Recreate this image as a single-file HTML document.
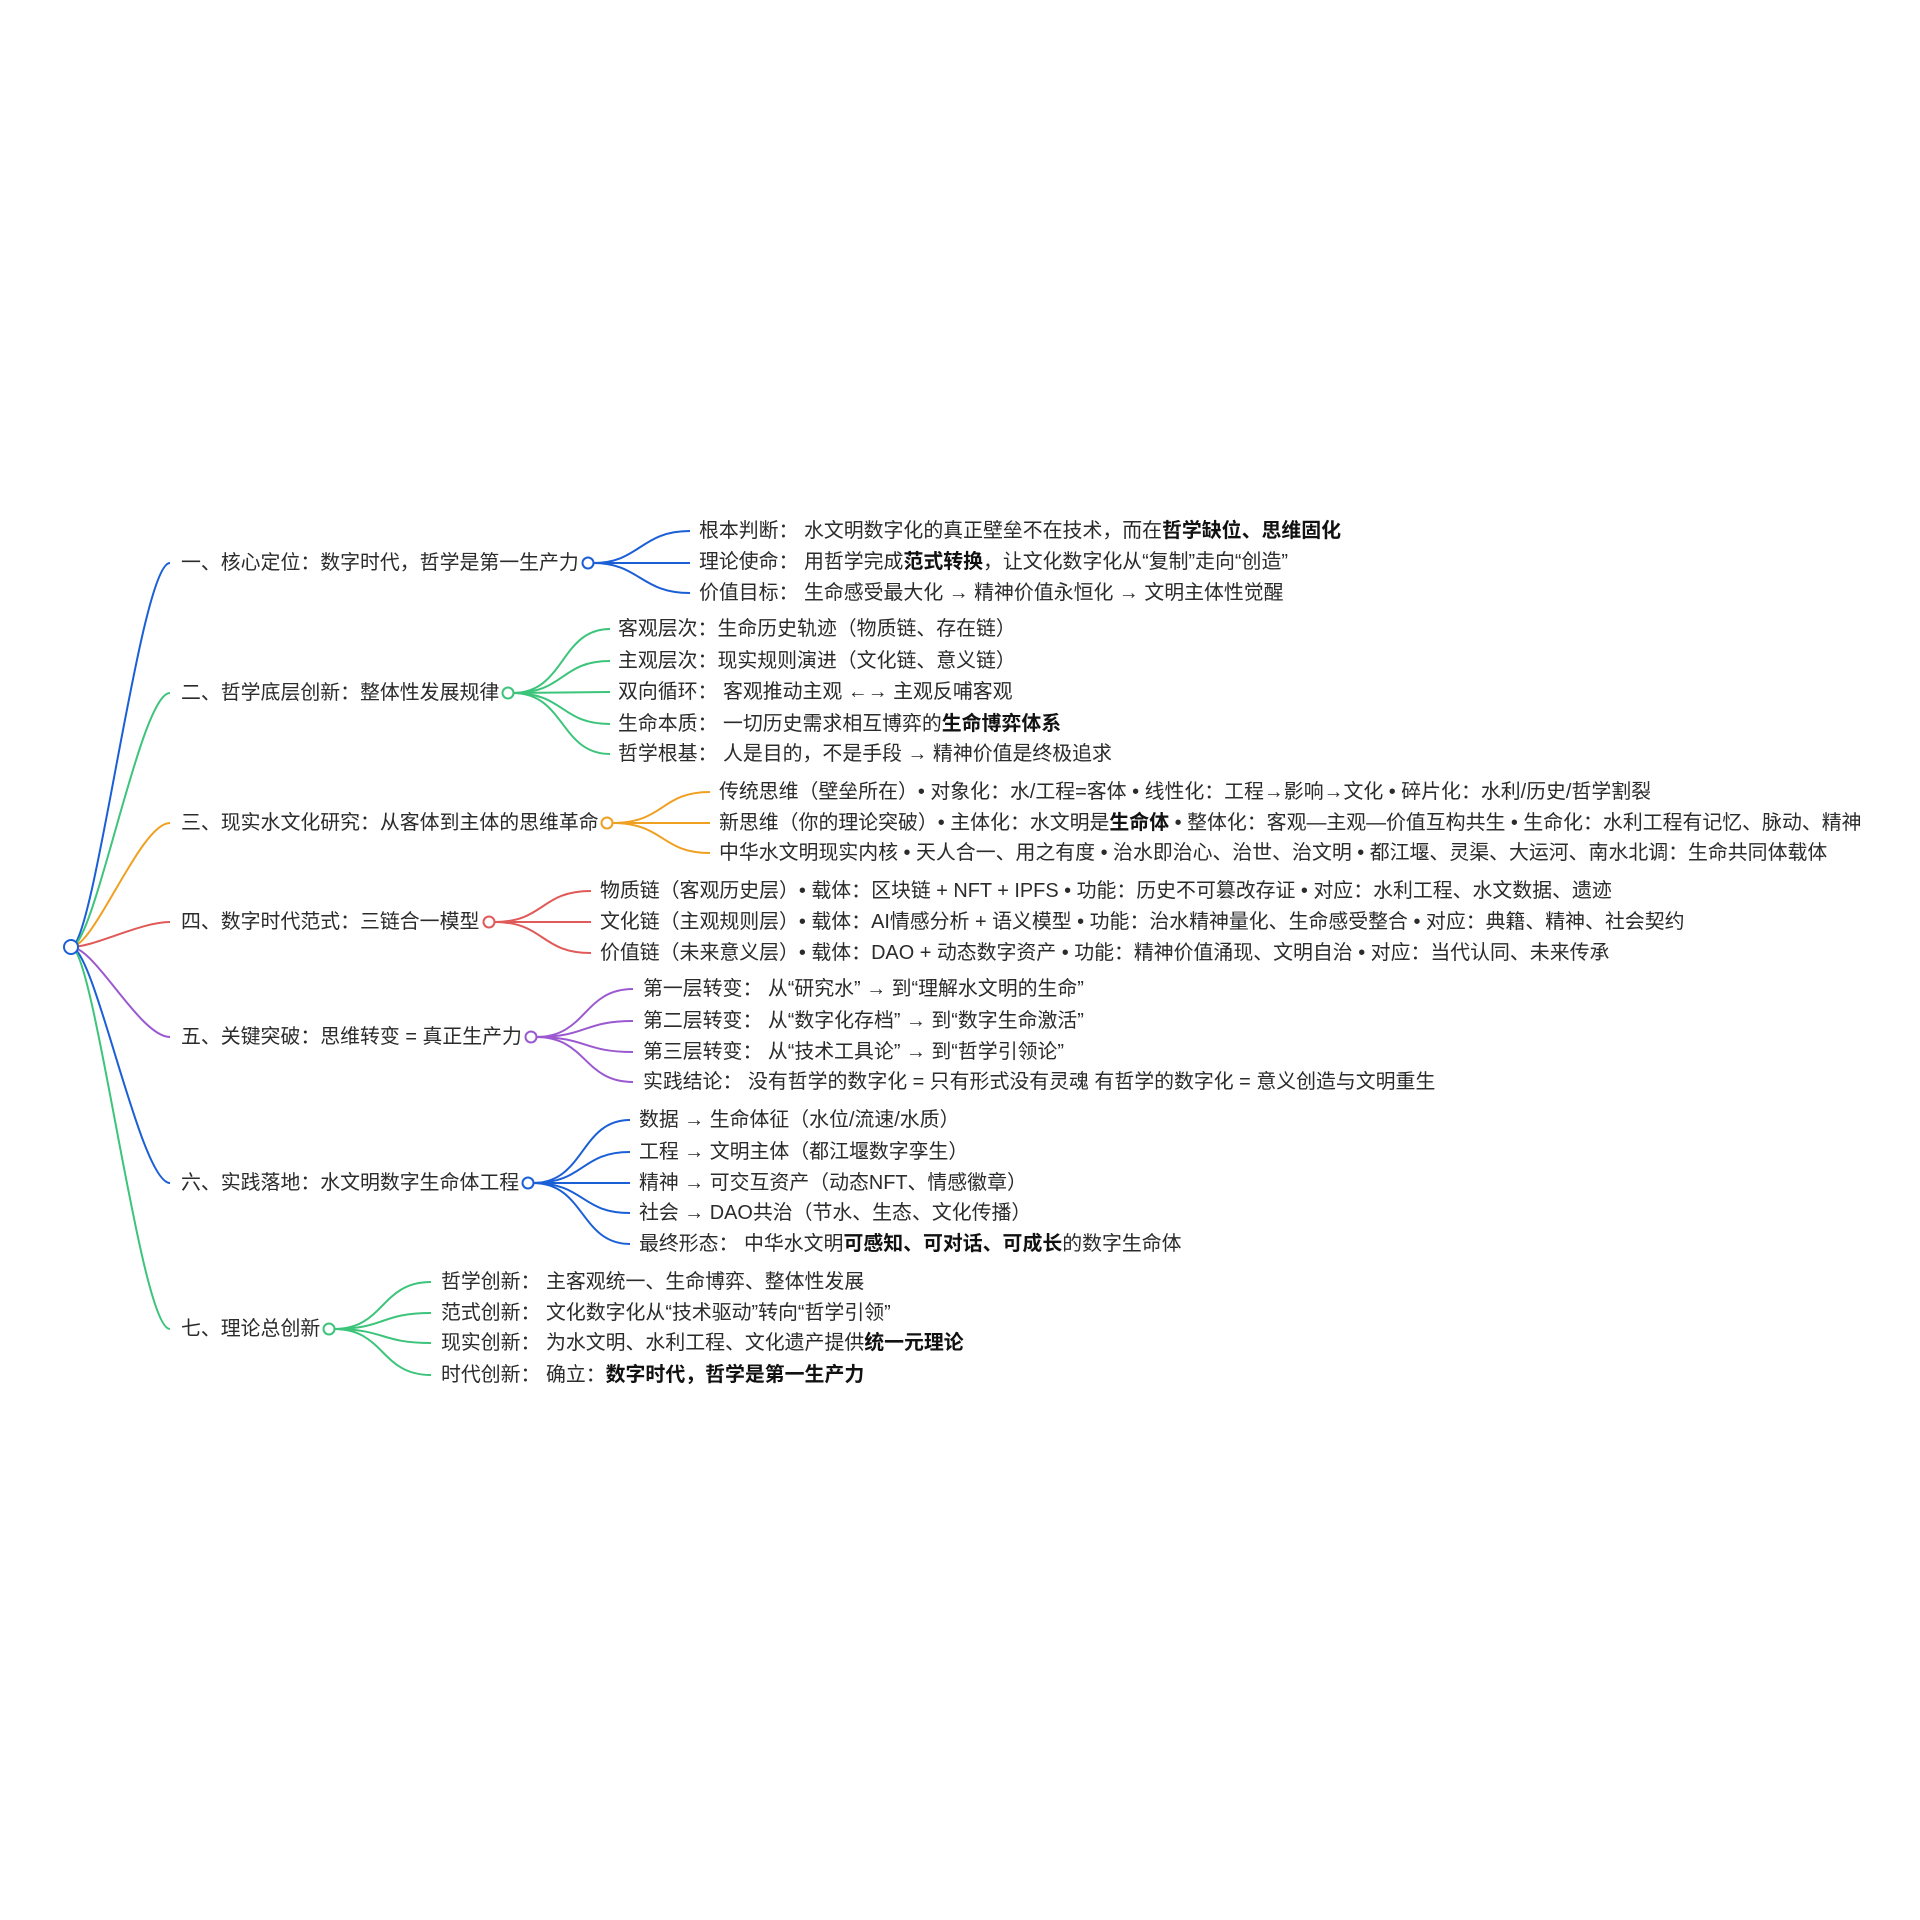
<!DOCTYPE html>
<html><head><meta charset="utf-8"><style>
html,body{margin:0;padding:0;background:#fff;}
#c{position:relative;width:1920px;height:1920px;overflow:hidden;}
.t{position:absolute;white-space:nowrap;font-family:"Liberation Sans","Noto Sans CJK SC",sans-serif;font-size:19.9px;color:#2b2b2b;line-height:28px;height:28px;}
b{font-weight:bold;color:#111;}
svg{position:absolute;left:0;top:0;}
</style></head><body><div id="c">
<svg width="1920" height="1920" fill="none" stroke-width="2">
<path d="M71,947 C95,947 140,563 170,563" stroke="#1a5fd6"/>
<path d="M71,947 C95,947 140,693 170,693" stroke="#3cc47a"/>
<path d="M71,947 C95,947 140,823 170,823" stroke="#f0a020"/>
<path d="M71,947 C95,947 140,922 170,922" stroke="#e05a5a"/>
<path d="M71,947 C95,947 140,1037 170,1037" stroke="#9b59d0"/>
<path d="M71,947 C95,947 140,1183 170,1183" stroke="#1a5fd6"/>
<path d="M71,947 C95,947 140,1329 170,1329" stroke="#3cc47a"/>
<circle cx="71" cy="947" r="7" fill="#fff" stroke="#1a5fd6"/>
<g stroke="#1a5fd6">
<path d="M593,563 C640,563 640,531 690,531"/><path d="M593,563 L690,563"/><path d="M593,563 C640,563 640,593 690,593"/>
<circle cx="588" cy="563" r="5.5" fill="#fff"/></g>
<g stroke="#3cc47a">
<path d="M513,693 C565,693 560,629 610,629"/><path d="M513,693 C565,693 560,661 610,661"/><path d="M513,693 L610,692"/><path d="M513,693 C565,693 560,724 610,724"/><path d="M513,693 C565,693 560,754 610,754"/>
<circle cx="508" cy="693" r="5.5" fill="#fff"/></g>
<g stroke="#f0a020">
<path d="M612,823 C665,823 660,792 710,792"/><path d="M612,823 L710,823"/><path d="M612,823 C665,823 660,853 710,853"/>
<circle cx="607" cy="823" r="5.5" fill="#fff"/></g>
<g stroke="#e05a5a">
<path d="M494,922 C545,922 540,891 591,891"/><path d="M494,922 L591,922"/><path d="M494,922 C545,922 540,953 591,953"/>
<circle cx="489" cy="922" r="5.5" fill="#fff"/></g>
<g stroke="#9b59d0">
<path d="M536,1037 C587,1037 583,989 633,989"/><path d="M536,1037 C587,1037 583,1021 633,1021"/><path d="M536,1037 C587,1037 583,1052 633,1052"/><path d="M536,1037 C587,1037 583,1082 633,1082"/>
<circle cx="531" cy="1037" r="5.5" fill="#fff"/></g>
<g stroke="#1a5fd6">
<path d="M533,1183 C585,1183 580,1120 630,1120"/><path d="M533,1183 C585,1183 580,1152 630,1152"/><path d="M533,1183 L630,1183"/><path d="M533,1183 C585,1183 580,1213 630,1213"/><path d="M533,1183 C585,1183 580,1244 630,1244"/>
<circle cx="528" cy="1183" r="5.5" fill="#fff"/></g>
<g stroke="#3cc47a">
<path d="M334,1329 C385,1329 380,1282 431,1282"/><path d="M334,1329 C385,1329 380,1313 431,1313"/><path d="M334,1329 C385,1329 380,1343 431,1343"/><path d="M334,1329 C385,1329 380,1375 431,1375"/>
<circle cx="329" cy="1329" r="5.5" fill="#fff"/></g>
</svg>

<div class="t" style="left:181px;top:549px">一、核心定位：数字时代，哲学是第一生产力</div>
<div class="t" style="left:181px;top:679px">二、哲学底层创新：整体性发展规律</div>
<div class="t" style="left:181px;top:809px">三、现实水文化研究：从客体到主体的思维革命</div>
<div class="t" style="left:181px;top:908px">四、数字时代范式：三链合一模型</div>
<div class="t" style="left:181px;top:1023px">五、关键突破：思维转变 = 真正生产力</div>
<div class="t" style="left:181px;top:1169px">六、实践落地：水文明数字生命体工程</div>
<div class="t" style="left:181px;top:1315px">七、理论总创新</div>

<div class="t" style="left:699px;top:517px">根本判断：&nbsp;水文明数字化的真正壁垒不在技术，而在<b>哲学缺位、思维固化</b></div>
<div class="t" style="left:699px;top:548px">理论使命：&nbsp;用哲学完成<b>范式转换</b>，让文化数字化从“复制”走向“创造”</div>
<div class="t" style="left:699px;top:579px">价值目标：&nbsp;生命感受最大化 → 精神价值永恒化 → 文明主体性觉醒</div>

<div class="t" style="left:618px;top:615px">客观层次：生命历史轨迹（物质链、存在链）</div>
<div class="t" style="left:618px;top:647px">主观层次：现实规则演进（文化链、意义链）</div>
<div class="t" style="left:618px;top:678px">双向循环：&nbsp;客观推动主观 ←→ 主观反哺客观</div>
<div class="t" style="left:618px;top:710px">生命本质：&nbsp;一切历史需求相互博弈的<b>生命博弈体系</b></div>
<div class="t" style="left:618px;top:740px">哲学根基：&nbsp;人是目的，不是手段 → 精神价值是终极追求</div>

<div class="t" style="left:719px;top:778px">传统思维（壁垒所在）• 对象化：水/工程=客体 • 线性化：工程→影响→文化 • 碎片化：水利/历史/哲学割裂</div>
<div class="t" style="left:719px;top:809px">新思维（你的理论突破）• 主体化：水文明是<b>生命体</b> • 整体化：客观—主观—价值互构共生 • 生命化：水利工程有记忆、脉动、精神</div>
<div class="t" style="left:719px;top:839px">中华水文明现实内核 • 天人合一、用之有度 • 治水即治心、治世、治文明 • 都江堰、灵渠、大运河、南水北调：生命共同体载体</div>

<div class="t" style="left:600px;top:877px">物质链（客观历史层）• 载体：区块链 + NFT + IPFS • 功能：历史不可篡改存证 • 对应：水利工程、水文数据、遗迹</div>
<div class="t" style="left:600px;top:908px">文化链（主观规则层）• 载体：AI情感分析 + 语义模型 • 功能：治水精神量化、生命感受整合 • 对应：典籍、精神、社会契约</div>
<div class="t" style="left:600px;top:939px">价值链（未来意义层）• 载体：DAO + 动态数字资产 • 功能：精神价值涌现、文明自治 • 对应：当代认同、未来传承</div>

<div class="t" style="left:643px;top:975px">第一层转变：&nbsp;从“研究水” → 到“理解水文明的生命”</div>
<div class="t" style="left:643px;top:1007px">第二层转变：&nbsp;从“数字化存档” → 到“数字生命激活”</div>
<div class="t" style="left:643px;top:1038px">第三层转变：&nbsp;从“技术工具论” → 到“哲学引领论”</div>
<div class="t" style="left:643px;top:1068px">实践结论：&nbsp;没有哲学的数字化 = 只有形式没有灵魂 有哲学的数字化 = 意义创造与文明重生</div>

<div class="t" style="left:639px;top:1106px">数据 → 生命体征（水位/流速/水质）</div>
<div class="t" style="left:639px;top:1138px">工程 → 文明主体（都江堰数字孪生）</div>
<div class="t" style="left:639px;top:1169px">精神 → 可交互资产（动态NFT、情感徽章）</div>
<div class="t" style="left:639px;top:1199px">社会 → DAO共治（节水、生态、文化传播）</div>
<div class="t" style="left:639px;top:1230px">最终形态：&nbsp;中华水文明<b>可感知、可对话、可成长</b>的数字生命体</div>

<div class="t" style="left:441px;top:1268px">哲学创新：&nbsp;主客观统一、生命博弈、整体性发展</div>
<div class="t" style="left:441px;top:1299px">范式创新：&nbsp;文化数字化从“技术驱动”转向“哲学引领”</div>
<div class="t" style="left:441px;top:1329px">现实创新：&nbsp;为水文明、水利工程、文化遗产提供<b>统一元理论</b></div>
<div class="t" style="left:441px;top:1361px">时代创新：&nbsp;确立：<b>数字时代，哲学是第一生产力</b></div>
</div></body></html>
